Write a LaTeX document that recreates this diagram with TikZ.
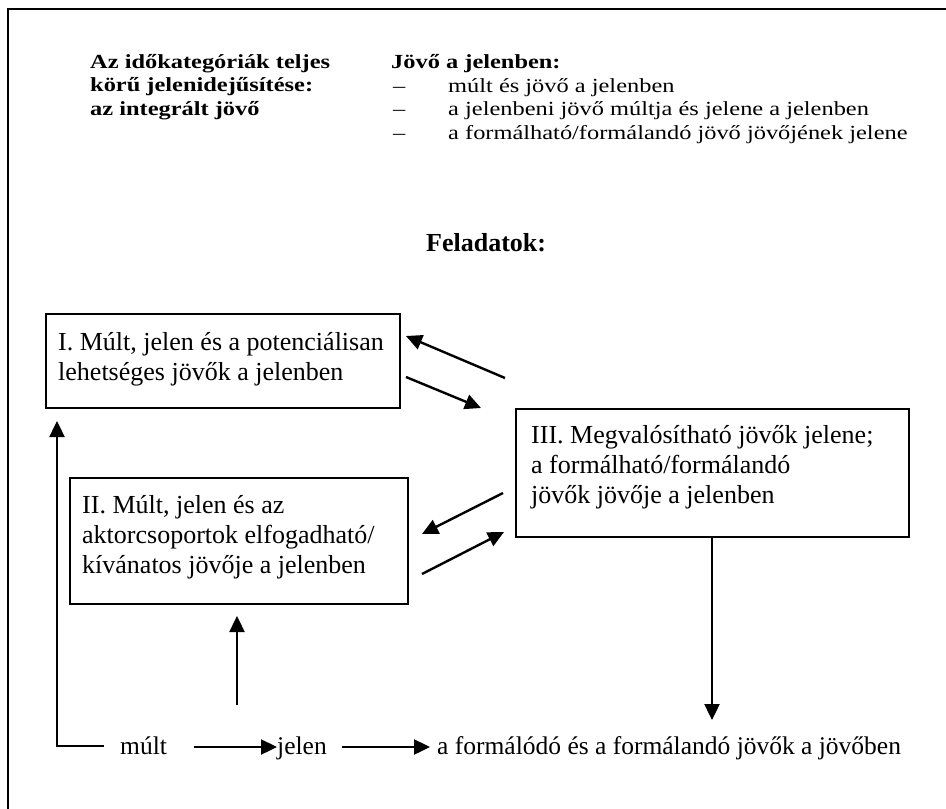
\documentclass[tikz,border=0pt]{standalone}
\usepackage{fontspec}
\setmainfont{Liberation Serif}
\usetikzlibrary{arrows.meta}
\newcommand\headfont{\fontsize{20}{23.5}\selectfont\addfontfeatures{FakeStretch=1.22}}
\tikzset{
  frameline/.style={line width=2.8pt},
  boxframe/.style={draw, line width=2.4pt, rectangle, inner sep=0pt, anchor=north west},
  boxtext/.style={inner sep=0pt, anchor=base west, align=left,
    font=\fontsize{26}{30}\selectfont},
  headtext/.style={inner sep=0pt, anchor=base west, align=left, font=\headfont},
  flowtext/.style={inner sep=0pt, anchor=base west, font=\fontsize{25.5}{30}\selectfont},
  conn/.style={line width=2.4pt, -{Triangle[length=16pt,width=15pt]}}
}
\begin{document}
\begin{tikzpicture}[x=1pt,y=-1pt]
\useasboundingbox (0,0) rectangle (946,809);
% frame (top and left edges)
\draw[frameline] (8,809) -- (8,9) -- (946,9);

% heading block (base anchor = baseline of the last line)
\node[headtext, font=\headfont\bfseries] (head) at (90,115)
  {Az időkategóriák teljes\\körű jelenidejűsítése:\\az integrált jövő};
\node[headtext, font=\headfont\bfseries] (jhead) at (391,68) {Jövő a jelenben:};
\node[headtext] (d1) at (393,92) {–};
\node[headtext] (d2) at (393,115) {–};
\node[headtext] (d3) at (393,139) {–};
\node[headtext] (i1) at (448,92) {múlt és jövő a jelenben};
\node[headtext] (i2) at (448,115) {a jelenbeni jövő múltja és jelene a jelenben};
\node[headtext] (i3) at (448,139) {a formálható/formálandó jövő jövőjének jelene};

\node[inner sep=0pt, anchor=base west, font=\fontsize{26}{30}\selectfont\bfseries] (task) at (426,251) {Feladatok:};

% three boxes
\node[boxframe, minimum width=354pt, minimum height=94pt] (b1) at (45,313) {};
\node[boxtext] (t1) at (58,380) {I. Múlt, jelen és a potenciálisan\\lehetséges jövők a jelenben};

\node[boxframe, minimum width=338pt, minimum height=126pt] (b2) at (69,477) {};
\node[boxtext] (t2) at (82,573) {II. Múlt, jelen és az\\aktorcsoportok elfogadható/\\kívánatos jövője a jelenben};

\node[boxframe, minimum width=393pt, minimum height=128pt] (b3) at (515,408) {};
\node[boxtext] (t3) at (531,503) {III. Megvalósítható jövők jelene;\\a formálható/formálandó\\jövők jövője a jelenben};

% time line
\node[flowtext] (past) at (120,754) {múlt};
\node[flowtext] (present) at (277,754) {jelen};
\node[flowtext] (future) at (437,754) {a formálódó és a formálandó jövők a jövőben};

% free ends of the connectors
\coordinate (a1s) at (406,377); \coordinate (a1e) at (481,408);
\coordinate (a2s) at (505,378); \coordinate (a2e) at (406,336);
\coordinate (a3s) at (503,493); \coordinate (a3e) at (422,534);
\coordinate (a4s) at (422,574); \coordinate (a4e) at (504,532);
\coordinate (pl) at (104,746); \coordinate (pc) at (57,746); \coordinate (pt) at (57,421);
\coordinate (u1) at (237,705); \coordinate (u2) at (237,616);
\coordinate (dd) at (712,720);

\draw[conn] (a1s) -- (a1e);
\draw[conn] (a2s) -- (a2e);
\draw[conn] (a3s) -- (a3e);
\draw[conn] (a4s) -- (a4e);
\draw[conn] (pl) -- (pc) -- (pt);
\draw[conn] (u1) -- (u2);
\draw[conn] (b3.south -| dd) -- (dd);
\draw[conn] (past.east |- 0,747) ++(27,0) coordinate (m1) -- (present.west |- m1);
\draw[conn] (present.east |- 0,747) ++(15,0) coordinate (m2) -- ([xshift=-7pt]future.west |- m2);
\end{tikzpicture}
\end{document}
